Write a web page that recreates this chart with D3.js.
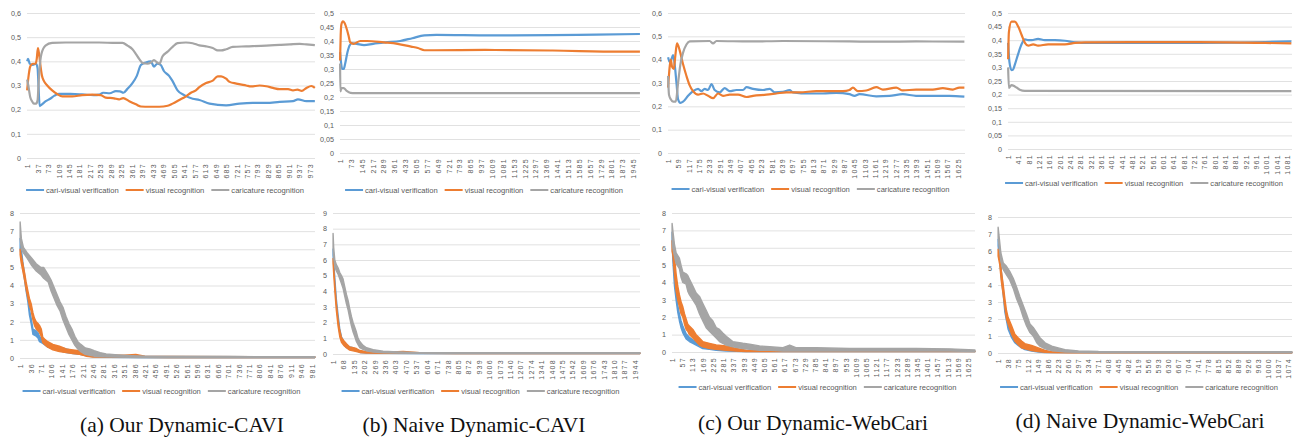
<!DOCTYPE html>
<html>
<head>
<meta charset="utf-8">
<script src="https://cdn.jsdelivr.net/npm/d3@7"></script>
<style>
  body { margin: 0; background: #fff; }
  svg { display: block; }
</style>
</head>
<body>
<script>
const width = 1296;
const height = 439;

const seriesNames = ["cari-visual verification", "visual recognition", "caricature recognition"];
const seriesColors = ["#5B9BD5", "#ED7D31", "#A5A5A5"];
const captions = ["(a) Our Dynamic-CAVI", "(b) Naive Dynamic-CAVI", "(c) Our Dynamic-WebCari", "(d) Naive Dynamic-WebCari"];

// top row: [iteration, value]
const aTopBlue = [[1,0.40],[4,0.41],[10,0.39],[20,0.385],[32,0.39],[37,0.37],[40,0.30],[44,0.215],[50,0.22],[65,0.235],[80,0.245],[95,0.258],[110,0.265],[150,0.265],[190,0.263],[230,0.26],[250,0.262],[262,0.27],[285,0.268],[306,0.277],[320,0.276],[332,0.27],[345,0.285],[363,0.31],[378,0.34],[392,0.385],[409,0.395],[426,0.40],[437,0.378],[448,0.39],[460,0.385],[471,0.36],[489,0.34],[500,0.32],[518,0.28],[541,0.26],[570,0.245],[593,0.24],[628,0.225],[685,0.218],[731,0.225],[777,0.228],[823,0.228],[869,0.232],[915,0.235],[932,0.243],[961,0.235],[990,0.235]];
const aTopOrange = [[1,0.28],[5,0.33],[12,0.38],[20,0.39],[30,0.39],[34,0.41],[38,0.455],[42,0.43],[47,0.38],[52,0.34],[58,0.32],[70,0.30],[87,0.28],[104,0.265],[122,0.255],[156,0.255],[190,0.26],[225,0.262],[254,0.26],[271,0.25],[300,0.247],[317,0.243],[331,0.248],[352,0.235],[375,0.222],[392,0.213],[421,0.212],[455,0.212],[484,0.216],[501,0.225],[524,0.24],[547,0.255],[564,0.27],[581,0.28],[593,0.293],[616,0.31],[639,0.32],[656,0.338],[668,0.338],[685,0.328],[697,0.315],[720,0.308],[754,0.30],[771,0.296],[800,0.30],[823,0.297],[846,0.29],[869,0.285],[898,0.285],[915,0.28],[930,0.283],[945,0.278],[961,0.29],[978,0.298],[990,0.29]];
const aTopGrey = [[1,0.325],[5,0.30],[12,0.25],[18,0.235],[24,0.225],[32,0.225],[37,0.24],[40,0.30],[43,0.36],[50,0.43],[64,0.465],[87,0.476],[133,0.478],[248,0.478],[306,0.476],[329,0.476],[346,0.465],[363,0.45],[375,0.43],[386,0.41],[398,0.393],[415,0.39],[426,0.395],[437,0.405],[448,0.395],[456,0.39],[466,0.42],[484,0.44],[501,0.46],[518,0.475],[547,0.478],[570,0.475],[593,0.466],[616,0.462],[639,0.455],[656,0.445],[668,0.445],[685,0.45],[708,0.46],[754,0.462],[823,0.465],[869,0.468],[904,0.47],[938,0.472],[961,0.47],[990,0.467]];

const bTopBlue = [[1,0.36],[8,0.32],[15,0.30],[25,0.30],[35,0.32],[50,0.36],[65,0.385],[80,0.392],[110,0.39],[160,0.385],[220,0.39],[300,0.395],[400,0.40],[480,0.41],[560,0.42],[640,0.422],[1000,0.42],[1400,0.421],[1700,0.423],[1990,0.425]];
const bTopOrange = [[1,0.33],[5,0.42],[10,0.46],[20,0.47],[30,0.465],[41,0.45],[57,0.42],[68,0.395],[90,0.39],[135,0.40],[180,0.40],[292,0.395],[382,0.39],[472,0.38],[517,0.375],[561,0.367],[628,0.367],[964,0.368],[1411,0.366],[1859,0.362],[1990,0.362]];
const bTopGrey = [[1,0.32],[3,0.22],[10,0.232],[25,0.232],[45,0.222],[70,0.215],[100,0.214],[1990,0.214]];

const cTopBlue = [[1,0.41],[10,0.39],[19,0.40],[29,0.42],[38,0.38],[48,0.30],[57,0.23],[70,0.215],[85,0.22],[113,0.245],[141,0.265],[169,0.275],[188,0.265],[206,0.275],[225,0.27],[244,0.295],[262,0.27],[290,0.26],[318,0.278],[346,0.265],[384,0.27],[421,0.27],[440,0.282],[477,0.275],[533,0.27],[570,0.275],[598,0.26],[645,0.262],[682,0.27],[701,0.26],[794,0.255],[869,0.255],[944,0.258],[1018,0.252],[1046,0.245],[1074,0.252],[1168,0.243],[1242,0.245],[1317,0.252],[1391,0.245],[1485,0.245],[1578,0.245],[1662,0.242]];
const cTopOrange = [[1,0.28],[10,0.37],[16,0.40],[23,0.37],[33,0.36],[42,0.42],[51,0.47],[66,0.44],[85,0.38],[104,0.33],[122,0.29],[141,0.265],[169,0.25],[197,0.255],[225,0.245],[253,0.235],[281,0.255],[309,0.245],[346,0.25],[393,0.25],[440,0.24],[477,0.245],[552,0.25],[608,0.255],[664,0.26],[738,0.26],[832,0.265],[906,0.265],[981,0.265],[1018,0.27],[1037,0.28],[1065,0.265],[1112,0.268],[1168,0.282],[1205,0.272],[1280,0.28],[1317,0.268],[1391,0.272],[1485,0.272],[1541,0.278],[1597,0.272],[1634,0.28],[1662,0.28]];
const cTopGrey = [[1,0.33],[6,0.25],[16,0.23],[29,0.22],[44,0.22],[57,0.30],[70,0.38],[85,0.43],[104,0.465],[122,0.478],[234,0.48],[253,0.47],[272,0.48],[458,0.478],[645,0.48],[1018,0.478],[1205,0.477],[1391,0.478],[1662,0.477]];

const dTopBlue = [[1,0.39],[6,0.32],[14,0.29],[20,0.292],[27,0.31],[40,0.35],[53,0.385],[66,0.403],[79,0.40],[92,0.40],[117,0.405],[143,0.40],[182,0.40],[221,0.398],[260,0.392],[286,0.39],[350,0.39],[480,0.39],[609,0.39],[738,0.39],[868,0.391],[997,0.393],[1098,0.396]];
const dTopOrange = [[1,0.33],[4,0.43],[14,0.468],[27,0.468],[40,0.45],[53,0.42],[66,0.39],[79,0.38],[98,0.385],[117,0.38],[156,0.385],[221,0.385],[260,0.39],[298,0.392],[480,0.393],[738,0.393],[997,0.39],[1098,0.388]];
const dTopGrey = [[1,0.30],[4,0.225],[14,0.235],[27,0.23],[46,0.218],[66,0.214],[1098,0.213]];

// bottom row: [iteration, low, high] of the noisy loss trace
const aBotBlue = [[1,6.0,6.6],[10,5.0,5.3],[21,3.7,4.0],[27,3.1,3.4],[32,2.4,2.7],[38,1.9,2.2],[44,1.3,1.6],[55,1.2,1.5],[61,1.1,1.4],[66,0.9,1.2],[77,0.8,1.0],[94,0.6,0.85],[111,0.5,0.7],[133,0.4,0.6],[156,0.3,0.5],[178,0.25,0.4],[201,0.2,0.35],[223,0.12,0.25],[246,0.06,0.15],[300,0.04,0.1],[400,0.03,0.08],[992,0.03,0.06]];
const aBotOrange = [[1,5.7,6.0],[4,5.3,5.7],[10,4.8,5.2],[16,4.3,4.7],[21,3.8,4.2],[27,3.3,3.7],[32,2.9,3.3],[38,2.6,3.0],[44,2.1,2.5],[49,1.8,2.2],[55,1.6,2.0],[61,1.5,1.9],[66,1.4,1.8],[72,1.2,1.6],[77,0.85,1.15],[83,0.75,1.05],[94,0.6,0.9],[111,0.45,0.75],[133,0.35,0.65],[156,0.3,0.5],[178,0.25,0.45],[201,0.2,0.4],[223,0.1,0.3],[246,0.05,0.15],[268,0.05,0.12],[300,0.05,0.15],[350,0.05,0.15],[390,0.05,0.2],[420,0.04,0.1],[500,0.03,0.08],[992,0.03,0.07]];
const aBotGrey = [[1,6.6,7.5],[5,6.0,6.6],[12,5.8,6.1],[25,5.5,5.8],[40,5.1,5.5],[55,4.8,5.2],[70,4.6,5.0],[80,4.4,5.0],[95,4.2,4.6],[105,3.7,4.3],[115,3.3,3.9],[125,2.9,3.5],[135,2.6,3.1],[145,2.1,2.8],[155,1.7,2.3],[165,1.3,1.9],[175,1.0,1.6],[185,0.7,1.2],[195,0.5,0.9],[205,0.35,0.75],[220,0.2,0.55],[235,0.15,0.5],[250,0.1,0.4],[270,0.08,0.3],[290,0.06,0.22],[320,0.05,0.18],[360,0.04,0.14],[420,0.03,0.1],[500,0.03,0.09],[600,0.03,0.08],[700,0.03,0.08],[850,0.03,0.07],[992,0.03,0.07]];

const bBotBlue = [[1,6.3,6.7],[7,5.3,5.6],[14,4.3,4.6],[22,3.2,3.5],[33,2.2,2.5],[44,1.3,1.6],[55,0.85,1.1],[70,0.6,0.8],[87,0.4,0.6],[108,0.3,0.45],[130,0.25,0.4],[151,0.2,0.3],[173,0.1,0.2],[216,0.06,0.12],[345,0.04,0.1],[559,0.03,0.07],[1976,0.03,0.06]];
const bBotOrange = [[1,5.8,6.1],[7,4.8,5.2],[14,3.8,4.2],[22,2.8,3.2],[33,1.8,2.2],[44,1.1,1.5],[55,0.75,1.05],[70,0.55,0.85],[87,0.4,0.65],[108,0.25,0.45],[130,0.2,0.4],[151,0.15,0.35],[173,0.1,0.22],[216,0.06,0.14],[345,0.05,0.12],[452,0.05,0.16],[559,0.04,0.09],[800,0.03,0.07],[1976,0.03,0.07]];
const bBotGrey = [[1,6.8,7.7],[5,6.2,6.8],[12,5.6,6.0],[22,5.3,5.7],[33,5.1,5.5],[44,4.8,5.2],[55,4.5,5.0],[65,4.2,4.8],[76,3.7,4.3],[87,3.2,3.8],[98,2.8,3.4],[108,2.3,2.9],[119,1.8,2.4],[130,1.4,2.0],[141,1.1,1.7],[151,0.8,1.4],[162,0.6,1.0],[173,0.4,0.8],[194,0.3,0.55],[216,0.2,0.4],[259,0.12,0.28],[323,0.08,0.18],[387,0.06,0.15],[473,0.05,0.12],[559,0.04,0.09],[1976,0.04,0.08]];

const cBotBlue = [[1,6.4,6.9],[5,5.3,5.7],[14,3.8,4.2],[23,3.0,3.4],[32,2.3,2.7],[41,1.8,2.2],[50,1.4,1.8],[60,1.1,1.5],[78,0.75,1.05],[96,0.6,0.85],[115,0.5,0.7],[133,0.4,0.6],[151,0.3,0.5],[169,0.2,0.4],[206,0.15,0.3],[243,0.1,0.25],[298,0.06,0.15],[400,0.03,0.08],[1662,0.02,0.05]];
const cBotOrange = [[1,5.8,6.4],[5,5.6,6.3],[14,4.5,5.5],[23,3.5,4.5],[32,3.0,3.8],[41,2.6,3.3],[50,2.2,2.9],[60,2.0,2.6],[69,1.6,2.2],[78,1.3,1.9],[87,1.2,1.6],[96,1.0,1.5],[115,0.8,1.3],[133,0.6,1.0],[151,0.4,0.8],[169,0.3,0.6],[206,0.2,0.5],[243,0.15,0.4],[298,0.1,0.35],[353,0.05,0.2],[408,0.03,0.1],[500,0.02,0.06],[1662,0.02,0.05]];
const cBotGrey = [[1,6.8,7.4],[5,6.0,7.0],[14,5.5,6.2],[23,5.1,5.7],[41,4.8,5.4],[50,4.3,5.0],[60,4.0,4.6],[78,3.9,4.5],[87,3.5,4.4],[96,3.3,4.2],[115,3.0,3.8],[133,2.7,3.4],[151,2.2,3.2],[169,1.8,2.8],[188,1.4,2.4],[206,1.2,2.0],[224,1.0,1.8],[243,0.8,1.4],[261,0.6,1.3],[279,0.5,1.1],[298,0.4,0.9],[334,0.3,0.6],[389,0.2,0.5],[426,0.15,0.45],[481,0.1,0.35],[536,0.1,0.3],[609,0.05,0.25],[646,0.05,0.4],[680,0.05,0.25],[792,0.05,0.25],[975,0.05,0.2],[1158,0.05,0.2],[1341,0.05,0.2],[1524,0.05,0.18],[1662,0.03,0.12]];

const dBotBlue = [[1,6.3,6.7],[7,5.4,5.8],[13,4.4,4.8],[20,3.4,3.8],[26,2.4,2.7],[32,1.9,2.2],[38,1.4,1.7],[51,0.9,1.2],[63,0.6,0.9],[75,0.45,0.7],[88,0.3,0.55],[100,0.2,0.45],[125,0.12,0.35],[150,0.06,0.2],[175,0.03,0.1],[200,0.02,0.06],[1090,0.01,0.04]];
const dBotOrange = [[1,5.7,6.1],[7,5.2,5.7],[13,4.2,4.8],[20,3.4,4.0],[26,2.7,3.2],[32,2.0,2.5],[38,1.7,2.1],[51,1.1,1.6],[63,0.7,1.1],[75,0.5,0.9],[88,0.3,0.7],[100,0.25,0.55],[125,0.15,0.45],[150,0.08,0.3],[175,0.04,0.15],[200,0.02,0.08],[260,0.01,0.05],[1090,0.01,0.05]];
const dBotGrey = [[1,6.8,7.4],[5,6.2,6.8],[11,5.4,5.9],[20,4.9,5.3],[32,4.6,5.1],[44,4.3,4.8],[57,3.8,4.4],[69,3.2,3.9],[82,2.7,3.3],[94,2.1,2.8],[106,1.6,2.3],[119,1.2,1.7],[131,1.0,1.5],[144,0.6,1.2],[156,0.4,0.9],[175,0.25,0.6],[200,0.15,0.4],[224,0.1,0.3],[249,0.06,0.2],[299,0.04,0.12],[373,0.03,0.09],[1090,0.02,0.07]];

// category label every `step` iterations, as Excel picks them
const panels = [
  {left: 27,   right: 315,  top: 13,  bottom: 158, yMax: 0.6, yStep: 0.1,  n: 990,  step: 36, legendY: 190, kind: "line", data: [aTopBlue, aTopOrange, aTopGrey]},
  {left: 340,  right: 640,  top: 13,  bottom: 153, yMax: 0.5, yStep: 0.05, n: 1990, step: 72, legendY: 190, kind: "line", data: [bTopBlue, bTopOrange, bTopGrey]},
  {left: 668,  right: 965,  top: 13,  bottom: 153, yMax: 0.6, yStep: 0.1,  n: 1665, step: 58, legendY: 189, kind: "line", data: [cTopBlue, cTopOrange, cTopGrey]},
  {left: 1008, right: 1292, top: 13,  bottom: 149, yMax: 0.5, yStep: 0.05, n: 1100, step: 40, legendY: 183, kind: "line", data: [dTopBlue, dTopOrange, dTopGrey]},
  {left: 20,   right: 315,  top: 213, bottom: 358, yMax: 8,   yStep: 1,    n: 992,  step: 35, legendY: 391, kind: "band", data: [aBotBlue, aBotOrange, aBotGrey]},
  {left: 333,  right: 640,  top: 213, bottom: 354, yMax: 9,   yStep: 1,    n: 1976, step: 67, legendY: 391, kind: "band", data: [bBotBlue, bBotOrange, bBotGrey]},
  {left: 672,  right: 975,  top: 213, bottom: 352, yMax: 8,   yStep: 1,    n: 1662, step: 56, legendY: 387, kind: "band", data: [cBotBlue, cBotOrange, cBotGrey]},
  {left: 998,  right: 1292, top: 217, bottom: 353, yMax: 8,   yStep: 1,    n: 1090, step: 37, legendY: 387, kind: "band", data: [dBotBlue, dBotOrange, dBotGrey]}
];

const captionPos = [[182, 432], [474, 431.5], [813, 430], [1140, 428]];

const svg = d3.select("body").append("svg")
    .attr("width", width)
    .attr("height", height)
    .style("font-family", "'Liberation Sans', Arial, sans-serif");

const commaFormat = v => d3.format(".2~f")(v).replace(".", ",");

panels.forEach(drawPanel);

svg.append("g")
    .selectAll("text")
    .data(captions)
    .join("text")
    .attr("x", (d, i) => captionPos[i][0])
    .attr("y", (d, i) => captionPos[i][1])
    .attr("text-anchor", "middle")
    .style("font-family", "'Liberation Serif', 'Times New Roman', serif")
    .style("font-size", "21.5px")
    .attr("fill", "#111")
    .text(d => d);

function drawPanel(p) {
    const g = svg.append("g");
    const x = d3.scaleLinear().domain([0.5, p.n + 0.5]).range([p.left, p.right]);
    const y = d3.scaleLinear().domain([0, p.yMax]).range([p.bottom, p.top]);

    const yTicks = d3.range(0, p.yMax + p.yStep / 2, p.yStep);
    const xTicks = d3.range(1, p.n, p.step);

    // gridlines + value labels
    const yAxis = g.append("g")
        .attr("transform", `translate(${p.left},0)`)
        .call(d3.axisLeft(y)
            .tickValues(yTicks)
            .tickSize(-(p.right - p.left))
            .tickPadding(6)
            .tickFormat(p.yStep < 1 ? commaFormat : d3.format("d")));
    yAxis.select(".domain").remove();
    yAxis.selectAll("line").attr("stroke", "#d9d9d9").attr("stroke-width", 0.8);
    yAxis.selectAll("text").attr("fill", "#595959").style("font-size", "7.2px");

    // category labels, rotated
    const xAxis = g.append("g")
        .attr("transform", `translate(0,${p.bottom})`)
        .call(d3.axisBottom(x).tickValues(xTicks).tickSize(0).tickFormat(d3.format("d")));
    xAxis.select(".domain").remove();
    xAxis.selectAll("text")
        .attr("transform", "rotate(-90)")
        .attr("text-anchor", "end")
        .attr("x", -5)
        .attr("y", 0)
        .attr("dy", "0.35em")
        .attr("fill", "#595959")
        .style("font-size", "7px")
        .style("letter-spacing", "1.3px");

    if (p.kind === "line") {
        const line = d3.line()
            .x(d => x(d[0]))
            .y(d => y(d[1]))
            .curve(d3.curveMonotoneX);
        g.append("g")
            .selectAll("path")
            .data(p.data)
            .join("path")
            .attr("d", line)
            .attr("fill", "none")
            .attr("stroke", (d, i) => seriesColors[i])
            .attr("stroke-width", 2.2)
            .attr("stroke-linejoin", "round");
    } else {
        const area = d3.area()
            .x(d => x(d[0]))
            .y0(d => y(d[1]))
            .y1(d => y(d[2]))
            .curve(d3.curveLinear);
        g.append("g")
            .selectAll("path")
            .data(p.data)
            .join("path")
            .attr("d", area)
            .attr("fill", (d, i) => seriesColors[i])
            .attr("stroke", (d, i) => seriesColors[i])
            .attr("stroke-width", 1.4)
            .attr("stroke-linejoin", "round");
    }

    // legend
    const legend = g.append("g");
    let cx = 0;
    seriesNames.forEach((name, i) => {
        legend.append("line")
            .attr("x1", cx).attr("x2", cx + 18)
            .attr("y1", 0).attr("y2", 0)
            .attr("stroke", seriesColors[i])
            .attr("stroke-width", 2);
        const t = legend.append("text")
            .attr("x", cx + 20)
            .attr("y", 0)
            .attr("dy", "0.35em")
            .attr("fill", "#595959")
            .style("font-size", "7.6px")
            .text(name);
        cx += 20 + t.node().getComputedTextLength() + 7;
    });
    const legendW = cx - 7;
    const mid = (p.left + p.right) / 2 - 6;
    legend.attr("transform", `translate(${mid - legendW / 2},${p.legendY})`);
}
</script>
</body>
</html>
